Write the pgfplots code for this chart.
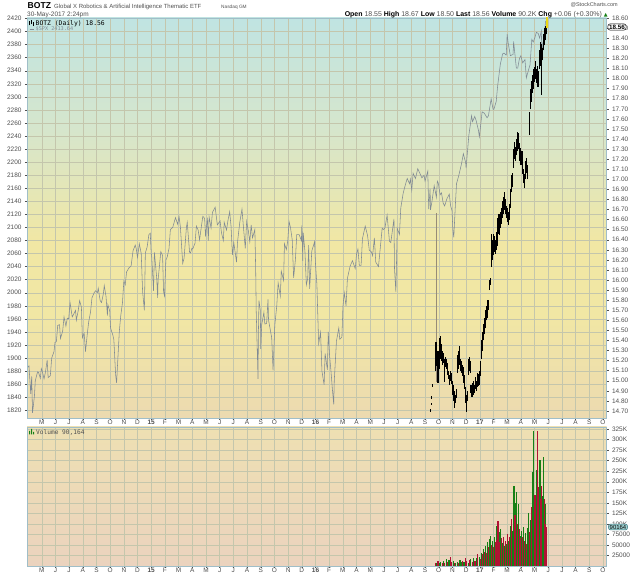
\documentclass[border=0pt]{standalone}
\usepackage{fontspec}
\setmainfont{Liberation Sans}
\newfontfamily\dejavu{DejaVu Sans}
\newfontfamily\monof{DejaVu Sans Mono}
\usepackage{pgfplots}
\pgfplotsset{compat=1.18}
\definecolor{gridc}{RGB}{196,198,172}
\definecolor{framec}{RGB}{160,190,200}
\definecolor{teal1}{RGB}{192,228,226}
\definecolor{green1}{RGB}{214,230,204}
\definecolor{yel1}{RGB}{241,231,164}
\definecolor{tan1}{RGB}{236,218,176}
\definecolor{vtop}{RGB}{238,224,178}
\definecolor{vbot}{RGB}{235,211,190}
\definecolor{spxc}{RGB}{128,138,148}
\definecolor{vgreen}{RGB}{22,128,22}
\definecolor{vred}{RGB}{176,18,52}
\definecolor{labc}{RGB}{80,80,80}
\definecolor{badgec}{RGB}{160,210,210}
\definecolor{lastc}{RGB}{235,215,20}
\pgfdeclareverticalshading{mainbg}{100bp}{color(0bp)=(tan1); color(25bp)=(tan1); color(38bp)=(yel1); color(47bp)=(yel1); color(61bp)=(green1); color(75bp)=(teal1); color(100bp)=(teal1)}

\pgfplotsset{
  panel/.style={
    anchor=north west,
    width=579.5bp, height=400bp, scale only axis,
    xmin=2.926, xmax=45.256,
    tick align=outside, major tick length=2bp,
    tick style={labc, line width=0.4bp},
    ticklabel style={font=\fontsize{6.5}{7}\selectfont, text=labc},
    /pgf/number format/assume math mode=true,
    /pgf/number format/1000 sep={},
    axis line style={framec, line width=0.6bp},
  },
  monthticks/.style={
    xtick={4,...,45},
    xticklabels={M,J,J,A,S,O,N,D,\textbf{15},F,M,A,M,J,J,A,S,O,N,D,\textbf{16},F,M,A,M,J,J,A,S,O,N,D,\textbf{17},F,M,A,M,J,J,A,S,O},
  },
  hlbars/.style={only marks, mark=*, mark size=0pt, mark options={draw opacity=0, fill opacity=0},
    error bars/.cd, y dir=plus, y explicit, error mark=none},
}

\begin{document}
\begin{tikzpicture}
\fill[white] (0bp,0bp) rectangle (640bp,576bp);

% ---------------- main panel: $SPX (left scale) ----------------
\begin{axis}[panel, monthticks,
  at={(27bp,558bp)},
  ymin=1808.2, ymax=2420.8,
  ytick={1820,1840,...,2420},
  xtick pos=bottom, ytick pos=left,
  grid=major, major grid style={gridc, line width=0.4bp},
  axis background/.style={shading=mainbg},
  xticklabel style={inner sep=0.6bp, yshift=1bp},
]
\addplot[spxc, line width=0.55bp] table {
m v
3.00 1886
3.07 1888
3.20 1845
3.27 1872
3.33 1816
3.47 1842
3.53 1865
3.70 1879
3.77 1878
3.90 1869
3.97 1884
4.03 1881
4.17 1868
4.27 1878
4.40 1897
4.47 1870
4.63 1873
4.73 1900
4.90 1910
4.97 1924
5.07 1925
5.17 1950
5.30 1951
5.37 1930
5.53 1941
5.63 1963
5.77 1949
5.87 1961
5.97 1960
6.07 1985
6.23 1963
6.33 1967
6.47 1973
6.53 1958
6.67 1973
6.77 1988
6.90 1978
6.97 1931
7.10 1938
7.20 1910
7.33 1937
7.43 1955
7.57 1971
7.67 1992
7.83 2000
7.93 2003
8.07 2000
8.13 2007
8.27 1988
8.37 1985
8.50 1998
8.57 2011
8.70 1994
8.80 1965
8.83 1982
8.97 1972
9.03 1946
9.20 1935
9.27 1928
9.40 1874
9.47 1862
9.53 1886
9.67 1941
9.77 1964
9.90 1985
10.00 2018
10.10 2012
10.20 2032
10.37 2038
10.53 2041
10.67 2064
10.83 2073
10.90 2068
11.00 2054
11.13 2075
11.27 2060
11.37 2002
11.50 1973
11.57 2061
11.70 2070
11.83 2089
11.93 2091
12.00 2059
12.03 2058
12.17 2003
12.23 2062
12.40 2023
12.47 1992
12.50 2019
12.70 2063
12.83 2057
12.90 2002
12.97 1995
13.07 2050
13.17 2055
13.30 2068
13.40 2097
13.57 2100
13.77 2115
13.93 2105
14.03 2117
14.13 2101
14.30 2045
14.40 2053
14.57 2100
14.63 2108
14.80 2062
14.87 2061
14.97 2068
15.03 2067
15.20 2076
15.30 2102
15.43 2096
15.53 2081
15.70 2107
15.77 2117
15.90 2114
15.97 2086
16.10 2115
16.17 2080
16.23 2116
16.37 2099
16.47 2123
16.67 2131
16.83 2104
16.93 2107
17.03 2110
17.13 2092
17.27 2080
17.33 2108
17.50 2096
17.60 2110
17.73 2124
17.83 2102
17.93 2058
18.03 2077
18.23 2047
18.30 2077
18.47 2108
18.63 2128
18.73 2102
18.87 2068
18.97 2109
19.10 2094
19.20 2078
19.30 2104
19.40 2084
19.57 2097
19.63 2036
19.67 1971
19.77 1893
19.80 1868
19.83 1940
19.87 1988
19.97 1973
20.00 1914
20.07 1951
20.23 1970
20.30 1952
20.43 1953
20.53 1990
20.57 1958
20.70 1943
20.80 1931
20.90 1881
20.97 1920
21.03 1951
21.17 1980
21.27 2015
21.43 1995
21.50 2033
21.67 2019
21.73 2075
21.87 2066
21.97 2079
22.07 2109
22.17 2100
22.30 2081
22.40 2023
22.53 2050
22.63 2089
22.80 2089
22.97 2080
23.00 2103
23.07 2049
23.10 2092
23.23 2063
23.33 2012
23.43 2022
23.50 2073
23.57 2006
23.73 2064
23.93 2078
24.00 2044
24.10 2013
24.20 1943
24.23 1922
24.37 1939
24.47 1880
24.63 1859
24.70 1907
24.87 1882
24.93 1940
25.03 1903
25.13 1880
25.23 1853
25.33 1829
25.37 1865
25.53 1926
25.70 1946
25.77 1929
25.93 1932
26.00 1978
26.10 2000
26.23 1980
26.33 2022
26.53 2041
26.70 2049
26.90 2037
27.00 2060
27.10 2067
27.20 2042
27.33 2042
27.43 2083
27.63 2102
27.80 2088
27.93 2065
28.07 2063
28.17 2057
28.30 2084
28.40 2047
28.60 2040
28.77 2077
28.87 2099
28.97 2097
29.07 2099
29.23 2119
29.40 2079
29.50 2077
29.73 2113
29.77 2037
29.87 2001
29.97 2099
30.13 2089
30.23 2130
30.40 2152
30.57 2166
30.70 2175
30.87 2167
30.93 2174
31.03 2157
31.13 2183
31.30 2175
31.47 2190
31.60 2184
31.77 2176
31.93 2180
32.00 2171
32.20 2186
32.27 2128
32.37 2159
32.40 2127
32.50 2139
32.67 2164
32.83 2146
32.90 2171
32.97 2168
33.10 2150
33.20 2153
33.33 2137
33.43 2133
33.60 2144
33.77 2151
33.87 2133
33.97 2126
34.03 2098
34.10 2085
34.23 2140
34.30 2167
34.47 2180
34.67 2198
34.80 2213
34.97 2199
35.00 2191
35.20 2241
35.40 2271
35.47 2262
35.63 2270
35.73 2264
35.90 2249
35.97 2239
36.07 2258
36.17 2277
36.33 2275
36.53 2268
36.63 2271
36.83 2297
36.97 2281
37.03 2281
37.20 2293
37.30 2316
37.50 2350
37.67 2366
37.77 2367
37.93 2364
38.00 2396
38.07 2383
38.23 2363
38.43 2365
38.47 2385
38.67 2344
38.77 2344
38.90 2359
39.00 2363
39.13 2352
39.30 2357
39.40 2329
39.57 2342
39.67 2349
39.80 2388
39.90 2384
40.03 2391
40.13 2399
40.27 2397
40.37 2390
40.50 2401
40.53 2357
40.60 2382
40.73 2398
40.80 2415
40.83 2416
40.97 2413
};
\end{axis}

% ---------------- main panel: BOTZ (right scale) ----------------
\begin{axis}[panel,
  at={(27bp,558bp)},
  ymin=14.630, ymax=18.602,
  axis x line=none, axis y line*=right,
  ytick distance=0.1,
  yticklabel style={/pgf/number format/fixed, /pgf/number format/fixed zerofill, /pgf/number format/precision=2},
]
\addplot[hlbars, error bar style={color={rgb,255:red,150;green,140;blue,120}, line width=0.8bp}]
  table[x=m, y=lo, y error expr=\thisrow{hi}-\thisrow{lo}] {
m lo hi
32.82 14.99 16.67
};
\addplot[hlbars, error bar style={black, line width=1.1bp}]
  table[x=m, y=lo, y error expr=\thisrow{hi}-\thisrow{lo}] {
m lo hi
32.40 14.69 14.72
32.45 14.76 14.78
32.50 14.82 14.85
32.55 14.94 14.97
32.75 15.10 15.34
32.80 15.15 15.38
32.88 15.20 15.30
32.95 14.98 15.22
33.02 15.12 15.30
33.09 15.22 15.42
33.16 15.28 15.44
33.23 15.20 15.36
33.30 15.16 15.30
33.37 15.18 15.28
33.44 14.99 15.22
33.51 15.14 15.24
33.58 15.12 15.22
33.65 15.06 15.18
33.72 15.02 15.10
33.80 14.96 15.06
33.87 15.00 15.10
33.95 14.97 15.08
34.02 14.86 15.00
34.09 14.80 14.96
34.16 14.73 14.90
34.23 14.78 14.86
34.30 14.83 14.92
34.37 15.08 15.26
34.44 15.12 15.30
34.51 15.16 15.34
34.58 15.10 15.22
34.65 15.08 15.20
34.72 15.05 15.16
34.80 14.98 15.14
34.87 14.92 15.06
34.94 14.78 14.94
35.01 14.69 14.86
35.08 14.80 14.90
35.15 15.06 15.22
35.22 15.10 15.24
35.29 15.08 15.20
35.36 14.88 14.96
35.43 14.84 14.94
35.50 14.86 14.98
35.57 14.90 15.00
35.64 14.88 14.96
35.71 14.92 15.04
35.78 14.90 15.00
35.85 14.94 15.08
35.92 14.95 15.07
36.00 14.96 15.10
36.07 15.05 15.20
36.14 15.22 15.40
36.21 15.30 15.48
36.28 15.40 15.56
36.35 15.46 15.62
36.42 15.52 15.70
36.49 15.60 15.74
36.56 15.62 15.80
36.63 15.70 15.80
36.70 15.90 16.00
36.77 15.95 16.02
36.84 16.13 16.46
36.91 16.20 16.40
36.98 16.25 16.46
37.05 16.28 16.44
37.12 16.26 16.40
37.19 16.30 16.45
37.26 16.34 16.48
37.33 16.46 16.62
37.40 16.50 16.66
37.47 16.45 16.60
37.54 16.52 16.68
37.61 16.56 16.72
37.68 16.62 16.78
37.75 16.66 16.82
37.82 16.70 16.87
37.89 16.66 16.80
37.96 16.62 16.74
38.03 16.58 16.72
38.10 16.55 16.68
38.17 16.60 16.75
38.24 16.72 16.90
38.31 16.87 17.04
38.38 16.92 17.06
38.45 17.11 17.30
38.52 17.20 17.37
38.59 17.18 17.32
38.66 17.24 17.40
38.73 17.28 17.47
38.80 17.30 17.46
38.87 17.24 17.36
38.94 17.18 17.31
39.01 17.14 17.24
39.08 17.16 17.28
39.15 17.05 17.22
39.22 16.96 17.10
39.29 16.91 17.05
39.36 17.00 17.18
39.43 17.06 17.21
39.50 17.00 17.14
39.65 17.44 17.67
39.72 17.70 17.90
39.79 17.77 17.98
39.86 17.86 18.04
39.93 17.90 18.10
40.00 17.97 18.12
40.07 18.00 18.17
40.14 17.96 18.10
40.21 17.92 18.13
40.28 17.92 18.08
40.35 18.10 18.28
40.42 18.13 18.36
40.49 18.20 18.34
40.52 17.84 18.20
40.56 18.18 18.30
40.63 18.28 18.44
40.70 18.33 18.50
40.77 18.38 18.52
40.84 18.44 18.55
};
\addplot[hlbars, error bar style={lastc, line width=1.2bp}]
  table[x=m, y=lo, y error expr=\thisrow{hi}-\thisrow{lo}] {
m lo hi
40.91 18.50 18.67
};
\end{axis}

% ---------------- volume panel ----------------
\begin{axis}[panel, monthticks,
  at={(27bp,149bp)}, height=139bp,
  ymin=0, ymax=330,
  ytick={25,50,...,325},
  yticklabels={25000,50000,75000,100K,125K,150K,175K,200K,225K,250K,275K,300K,325K},
  xtick pos=bottom, ytick pos=right, yticklabel pos=right,
  scaled y ticks=false,
  grid=major, major grid style={gridc, line width=0.4bp},
  axis background/.style={shade, top color=vtop, bottom color=vbot},
  xticklabel style={inner sep=0.6bp, yshift=0.5bp},
]
\addplot[ycomb, vgreen, line width=1.15bp] table {
m k
32.85 6
33.05 8
33.15 10
33.35 12
33.55 16
33.75 14
34.05 12
34.25 6
34.35 10
34.55 14
34.65 9
34.85 10
35.15 8
35.35 16
35.55 20
35.75 18
35.95 14
36.00 22
36.14 30
36.28 40
36.42 48
36.56 56
36.70 64
36.77 72
36.91 60
37.05 70
37.19 96
37.40 80
37.54 88
37.68 54
37.82 48
37.96 52
38.10 60
38.24 96
38.38 84
38.45 140
38.50 190
38.64 150
38.70 175
38.82 148
38.94 72
39.07 84
39.21 92
39.35 78
39.49 90
39.55 127
39.68 110
39.80 120
39.85 223
39.91 320
40.09 140
40.15 227
40.34 140
40.40 251
40.58 165
40.64 259
40.76 148
};
\addplot[ycomb, vred, line width=1.15bp] table {
m k
32.75 8
32.95 12
33.25 6
33.45 8
33.65 10
33.85 22
33.95 9
34.15 7
34.45 8
34.75 12
34.95 18
35.05 12
35.25 14
35.45 10
35.65 12
35.85 28
36.07 16
36.21 28
36.35 34
36.49 30
36.63 44
36.84 50
36.98 44
37.12 58
37.26 62
37.33 106
37.47 58
37.61 66
37.75 68
37.89 60
38.03 77
38.17 70
38.31 112
38.57 120
38.77 100
38.88 88
39.00 66
39.14 70
39.28 60
39.42 52
39.62 80
39.75 140
39.97 100
40.03 168
40.22 320
40.28 187
40.46 160
40.52 190
40.70 160
40.82 100
40.88 92
};
\end{axis}

% ---------------- header and legends ----------------
\begin{scope}[x=1bp,y=1bp]
\node[anchor=base west, inner sep=0, font=\fontsize{8.6}{10}\selectfont\bfseries] at (27.5,567) {BOTZ};
\node[anchor=base west, inner sep=0, font=\fontsize{6}{7}\selectfont, text=labc] at (54,567) {Global X Robotics \& Artificial Intelligence Thematic ETF};
\node[anchor=base west, inner sep=0, font=\fontsize{4.8}{6}\selectfont, text=labc] at (221,567) {Nasdaq GM};
\node[anchor=base west, inner sep=0, font=\fontsize{6.5}{7}\selectfont, text=labc] at (27,559) {30-May-2017 2:24pm};
\node[anchor=base east, inner sep=0, font=\fontsize{5.5}{6}\selectfont, text=labc] at (618,569) {@StockCharts.com};
\node[anchor=base east, inner sep=0, font=\fontsize{7}{8}\selectfont, text=labc] at (608,559)
  {\textbf{\color{black}Open} 18.55 \textbf{\color{black}High} 18.67 \textbf{\color{black}Low} 18.50 \textbf{\color{black}Last} 18.56 \textbf{\color{black}Volume} 90.2K \textbf{\color{black}Chg} +0.06 (+0.30\%) {\dejavu\color{vgreen}\fontsize{5}{6}\selectfont ▲}};

\draw[black, line width=0.7bp] (29.5,550.5) -- (29.5,555) (31.5,551.5) -- (31.5,556) (33.5,550) -- (33.5,554);
\node[anchor=base west, inner sep=0, font=\monof\fontsize{6.4}{7}\selectfont] at (35.5,550.5) {BOTZ (Daily) 18.56};
\draw[spxc, line width=0.8bp] (29.5,547) -- (33.5,547);
\node[anchor=base west, inner sep=0, font=\monof\fontsize{5.2}{6}\selectfont, text=spxc] at (35.5,545) {\$SPX 2413.64};

\fill[vgreen] (29,141.5) rectangle (30.2,145) (31,141.5) rectangle (32.2,147) (33,141.5) rectangle (34.2,144);
\node[anchor=base west, inner sep=0, font=\monof\fontsize{6.2}{7}\selectfont, text=labc] at (36,141.8) {Volume 90,164};

\node[draw=black, fill=white, rounded corners=2bp, inner xsep=1.2bp, inner ysep=0.8bp, line width=0.5bp,
  font=\fontsize{6.3}{7}\selectfont\bfseries] at (617,549) {18.56};
\node[draw={rgb,255:red,60;green,120;blue,130}, fill=badgec, rounded corners=2bp, inner xsep=1.2bp, inner ysep=0.8bp, line width=0.5bp,
  font=\fontsize{6}{7}\selectfont] at (618,49) {90164};
\end{scope}
\end{tikzpicture}
\end{document}
